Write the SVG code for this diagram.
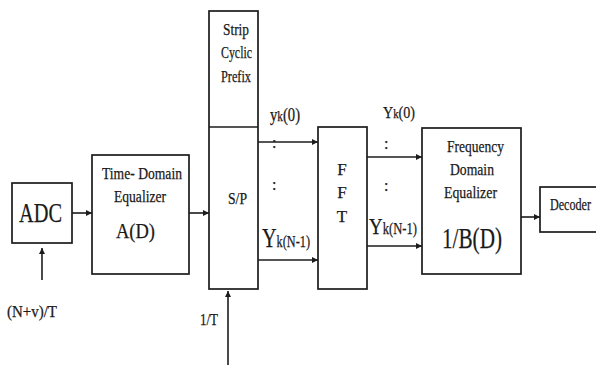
<svg xmlns="http://www.w3.org/2000/svg" width="596" height="365" viewBox="0 0 596 365">
<defs>
<style>
.box{fill:none;stroke:#1c1c1c;stroke-width:1.7}
.ln{fill:none;stroke:#1c1c1c;stroke-width:1.6}
.t{font-family:"Liberation Serif","Times New Roman",serif;fill:#1a1a1a;stroke:#1a1a1a;stroke-width:0.25}
</style>
<marker id="ah" viewBox="0 0 10 10" refX="10" refY="5" markerWidth="7" markerHeight="6" markerUnits="userSpaceOnUse" orient="auto">
<path d="M0,0 L10,5 L0,10 z" fill="#1c1c1c"/>
</marker>
</defs>
<rect width="596" height="365" fill="#ffffff"/>

<g id="adc">
<rect class="box" x="12" y="183" width="60" height="60"/>
<text class="t" x="19" y="222" font-size="27" textLength="43" lengthAdjust="spacingAndGlyphs">ADC</text>
</g>

<g id="adc-clock">
<text class="t" x="7" y="317" font-size="16" textLength="50" lengthAdjust="spacingAndGlyphs">(N+v)/T</text>
</g>

<g id="tde">
<rect class="box" x="92" y="155" width="97" height="119"/>
<text class="t" x="102" y="179" font-size="17" textLength="80" lengthAdjust="spacingAndGlyphs">Time- Domain</text>
<text class="t" x="114" y="202" font-size="17" textLength="52" lengthAdjust="spacingAndGlyphs">Equalizer</text>
<text class="t" x="116" y="238" font-size="20" textLength="39" lengthAdjust="spacingAndGlyphs">A(D)</text>
</g>

<g id="strip-sp">
<rect class="box" x="209" y="11" width="49" height="278"/>
<line class="ln" x1="209" y1="127" x2="258" y2="127"/>
<text class="t" x="223" y="35" font-size="16" textLength="26" lengthAdjust="spacingAndGlyphs">Strip</text>
<text class="t" x="221" y="58" font-size="16" textLength="31" lengthAdjust="spacingAndGlyphs">Cyclic</text>
<text class="t" x="221" y="82" font-size="16" textLength="30" lengthAdjust="spacingAndGlyphs">Prefix</text>
<text class="t" x="228" y="204" font-size="16" textLength="19" lengthAdjust="spacingAndGlyphs">S/P</text>
</g>

<g id="sp-clock">
<text class="t" x="200" y="325" font-size="16" textLength="18" lengthAdjust="spacingAndGlyphs">1/T</text>
</g>

<g id="fft">
<rect class="box" x="318" y="127" width="49" height="162"/>
<text class="t" x="342" y="175" font-size="17" text-anchor="middle">F</text>
<text class="t" x="342" y="198" font-size="17" text-anchor="middle">F</text>
<text class="t" x="342" y="222" font-size="17" text-anchor="middle">T</text>
</g>

<g id="fde">
<rect class="box" x="422" y="128" width="99" height="146"/>
<text class="t" x="447" y="152" font-size="17" textLength="57" lengthAdjust="spacingAndGlyphs">Frequency</text>
<text class="t" x="450" y="175" font-size="17" textLength="44" lengthAdjust="spacingAndGlyphs">Domain</text>
<text class="t" x="444" y="198" font-size="17" textLength="53" lengthAdjust="spacingAndGlyphs">Equalizer</text>
<text class="t" x="442" y="248" font-size="30" textLength="60" lengthAdjust="spacingAndGlyphs">1/B(D)</text>
</g>

<g id="decoder">
<rect class="box" x="540" y="187" width="62" height="45"/>
<text class="t" x="550" y="210" font-size="16" textLength="41" lengthAdjust="spacingAndGlyphs">Decoder</text>
</g>

<g id="connectors">
<line class="ln" x1="72" y1="213" x2="92" y2="213" marker-end="url(#ah)"/>
<line class="ln" x1="189" y1="213" x2="209" y2="213" marker-end="url(#ah)"/>
<line class="ln" x1="42" y1="280" x2="42" y2="248" marker-end="url(#ah)"/>
<line class="ln" x1="228" y1="365" x2="228" y2="291" marker-end="url(#ah)"/>
<line class="ln" x1="258" y1="142" x2="318" y2="142" marker-end="url(#ah)"/>
<line class="ln" x1="258" y1="260" x2="318" y2="260" marker-end="url(#ah)"/>
<line class="ln" x1="367" y1="157" x2="422" y2="157" marker-end="url(#ah)"/>
<line class="ln" x1="367" y1="246" x2="422" y2="246" marker-end="url(#ah)"/>
<line class="ln" x1="521" y1="217" x2="540" y2="217" marker-end="url(#ah)"/>
</g>

<g id="labels">
<text class="t" x="270" y="121" font-size="18" textLength="30" lengthAdjust="spacingAndGlyphs">y<tspan font-size="14">k</tspan>(0)</text>
<text class="t" x="272" y="148" font-size="16">:</text>
<text class="t" x="272" y="190" font-size="16">:</text>
<text class="t" x="262" y="247" font-size="28" textLength="48" lengthAdjust="spacingAndGlyphs">Y<tspan font-size="17">k(N-1)</tspan></text>
<text class="t" x="383" y="118" font-size="17" textLength="32" lengthAdjust="spacingAndGlyphs">Y<tspan font-size="13">k</tspan>(0)</text>
<text class="t" x="384" y="149" font-size="16">:</text>
<text class="t" x="384" y="191" font-size="16">:</text>
<text class="t" x="369" y="234" font-size="24" textLength="48" lengthAdjust="spacingAndGlyphs">Y<tspan font-size="16">k(N-1)</tspan></text>
</g>
</svg>
